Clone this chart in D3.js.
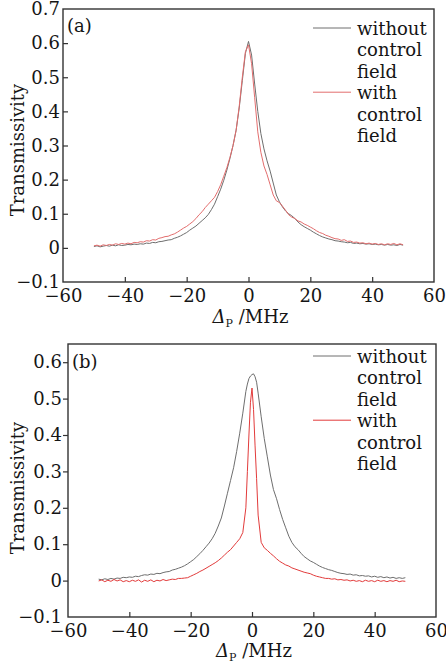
<!DOCTYPE html>
<html>
<head>
<meta charset="utf-8">
<script src="https://cdn.jsdelivr.net/npm/d3@7"></script>
<style>
  body { margin: 0; background: #fff; }
  svg text { font-family: "DejaVu Serif", serif; fill: #151515; }
</style>
</head>
<body>
<div id="chart"></div>
<script>
// ---- data ----
// detuning axis (MHz), shared by both series of a panel
const detA = d3.range(-50, 51, 1)
const detB = d3.range(-50, -2, 1).concat([-2, -1.5, -1, -0.5, 0, 0.5, 1, 1.5, 2]).concat(d3.range(3, 51, 1))

// panel (a)
const aWithout = [
  0.004, 0.006, 0.003, 0.005, 0.007, 0.005, 0.008, 0.006, 0.009, 0.007,
  0.008, 0.010, 0.009, 0.011, 0.010, 0.012, 0.011, 0.014, 0.013, 0.016,
  0.015, 0.018, 0.019, 0.021, 0.023, 0.024, 0.028, 0.031, 0.035, 0.040,
  0.045, 0.052, 0.058, 0.064, 0.072, 0.080, 0.088, 0.098, 0.112, 0.128,
  0.150, 0.172, 0.198, 0.228, 0.262, 0.300, 0.345, 0.410, 0.490, 0.570,
  0.605,
  0.565, 0.480, 0.400, 0.335, 0.290, 0.255, 0.225, 0.190, 0.155, 0.135,
  0.120, 0.108, 0.100, 0.094, 0.086, 0.076, 0.068, 0.062, 0.057, 0.052,
  0.046, 0.041, 0.036, 0.032, 0.029, 0.026, 0.024, 0.021, 0.020, 0.018,
  0.017, 0.015, 0.016, 0.013, 0.014, 0.012, 0.013, 0.011, 0.012, 0.010,
  0.011, 0.009, 0.010, 0.008, 0.010, 0.008, 0.009, 0.007, 0.010, 0.008
]
const aWith = [
  0.006, 0.008, 0.005, 0.009, 0.007, 0.010, 0.008, 0.012, 0.010, 0.013,
  0.011, 0.014, 0.012, 0.016, 0.015, 0.018, 0.017, 0.021, 0.020, 0.024,
  0.023, 0.028, 0.030, 0.033, 0.034, 0.038, 0.041, 0.046, 0.052, 0.058,
  0.063, 0.070, 0.077, 0.086, 0.097, 0.106, 0.118, 0.128, 0.138, 0.148,
  0.165, 0.185, 0.210, 0.235, 0.265, 0.300, 0.345, 0.415, 0.500, 0.575,
  0.595,
  0.540, 0.440, 0.340, 0.280, 0.240, 0.215, 0.185, 0.155, 0.138, 0.133,
  0.122, 0.110, 0.097, 0.090, 0.086, 0.079, 0.076, 0.070, 0.066, 0.061,
  0.056, 0.050, 0.045, 0.042, 0.037, 0.034, 0.030, 0.027, 0.026, 0.022,
  0.024, 0.019, 0.020, 0.016, 0.017, 0.014, 0.015, 0.012, 0.014, 0.011,
  0.013, 0.010, 0.012, 0.009, 0.012, 0.010, 0.013, 0.009, 0.012, 0.009
]

// panel (b)
const bWithout = [
  0.004, 0.002, 0.005, 0.003, 0.006, 0.004, 0.007, 0.006, 0.009, 0.008,
  0.010, 0.009, 0.012, 0.011, 0.014, 0.016, 0.015, 0.018, 0.017, 0.020,
  0.019, 0.022, 0.024, 0.025, 0.029, 0.031, 0.034, 0.037, 0.041, 0.046,
  0.052, 0.058, 0.066, 0.074, 0.083, 0.093, 0.103, 0.115, 0.130, 0.150,
  0.172, 0.205, 0.240, 0.275, 0.310, 0.355, 0.405, 0.460,
  0.520, 0.540, 0.555, 0.562, 0.566, 0.568, 0.560, 0.545, 0.515,
  0.450, 0.390, 0.340, 0.290, 0.250, 0.225, 0.195, 0.168, 0.145, 0.122,
  0.105, 0.093, 0.085, 0.075, 0.066, 0.060, 0.054, 0.050, 0.045, 0.040,
  0.036, 0.033, 0.030, 0.028, 0.025, 0.022, 0.020, 0.019, 0.017, 0.018,
  0.015, 0.016, 0.013, 0.014, 0.012, 0.013, 0.010, 0.012, 0.009, 0.011,
  0.008, 0.010, 0.007, 0.009, 0.006, 0.008, 0.006, 0.008
]
const bWith = [
  -0.001, 0.002, -0.003, 0.001, -0.002, 0.003, -0.001, 0.002, -0.003, 0.000,
  -0.003, 0.001, -0.002, 0.002, -0.004, 0.001, -0.002, 0.002, -0.003, 0.001,
  -0.001, 0.003, 0.000, 0.002, 0.004, 0.003, 0.006, 0.006, 0.007, 0.008,
  0.012, 0.016, 0.020, 0.025, 0.029, 0.034, 0.039, 0.044, 0.049, 0.055,
  0.062, 0.070, 0.078, 0.085, 0.095, 0.105, 0.115, 0.132,
  0.200, 0.300, 0.400, 0.490, 0.529, 0.470, 0.370, 0.280, 0.180,
  0.105, 0.090, 0.083, 0.075, 0.068, 0.060, 0.053, 0.048, 0.043, 0.040,
  0.035, 0.032, 0.029, 0.026, 0.023, 0.021, 0.019, 0.015, 0.012, 0.010,
  0.008, 0.006, 0.006, 0.004, 0.005, 0.002, 0.003, 0.001, 0.002, -0.001,
  0.001, -0.002, 0.000, -0.003, 0.001, -0.002, 0.000, -0.003, 0.001, -0.002,
  0.000, -0.003, 0.000, -0.002, 0.001, -0.003, -0.001, -0.002
]

const xTicks = [-60, -40, -20, 0, 20, 40, 60]
const yTicksA = [-0.1, 0, 0.1, 0.2, 0.3, 0.4, 0.5, 0.6, 0.7]
const yTicksB = [-0.1, 0, 0.1, 0.2, 0.3, 0.4, 0.5, 0.6]
const legendRows = ["without", "control", "field", "with", "control", "field"]

const ancho = 446, alto = 663
const svg = d3.select("#chart").append("svg")
  .attr("width", ancho).attr("height", alto)

const paneles = [
  { tag: "(a)", det: detA, s1: aWithout, s2: aWith, yDom: [-0.1, 0.7], yTicks: yTicksA,
    left: 63, right: 434, top: 9, bottom: 282, yIn: true, red: "#e36d6d",
    tagY: 32, xLabY: 323, legY: 35, ylabCy: 150 },
  { tag: "(b)", det: detB, s1: bWithout, s2: bWith, yDom: [-0.1, 0.65], yTicks: yTicksB,
    left: 68, right: 436, top: 344, bottom: 617, yIn: false, red: "#e23b3b",
    tagY: 368, xLabY: 657, legY: 363, ylabCy: 488 }
]

paneles.forEach((p) => {
  const x = d3.scaleLinear().domain([-60, 60]).range([p.left, p.right])
  const y = d3.scaleLinear().domain(p.yDom).range([p.bottom, p.top])

  // curvas
  const linea = (serie) => d3.line()
    .x((d, i) => x(p.det[i]))
    .y((d) => y(d))(serie)

  svg.append("path").attr("d", linea(p.s1))
    .attr("fill", "none").attr("stroke", "#6e6e6e").attr("stroke-width", 1)
  svg.append("path").attr("d", linea(p.s2))
    .attr("fill", "none").attr("stroke", p.red).attr("stroke-width", 1)

  // ejes
  const xAxis = d3.axisBottom(x).tickValues(xTicks).tickSizeInner(-5).tickSizeOuter(0)
    .tickPadding(7).tickFormat(d3.format("d"))
  const gx = svg.append("g").attr("transform", `translate(0, ${p.bottom})`).call(xAxis)

  const yAxis = d3.axisLeft(y).tickValues(p.yTicks).tickSizeOuter(0)
    .tickSizeInner(p.yIn ? -5 : 5).tickPadding(p.yIn ? 3 : 1)
    .tickFormat((d) => d === 0 ? "0" : d3.format(".1f")(d))
  const gy = svg.append("g").attr("transform", `translate(${p.left}, 0)`).call(yAxis)

  ;[gx, gy].forEach((g) => {
    g.select(".domain").remove()
    g.selectAll("line").attr("stroke", "#333").attr("stroke-width", 1.2)
    g.selectAll("text").attr("font-size", 18).attr("font-family", "DejaVu Serif").attr("fill", "#151515")
  })
  gx.selectAll(".tick").filter((d) => d === -60 || d === 60).select("line").remove()
  gy.selectAll(".tick").filter((d) => d === p.yDom[0] || d === 0.7).select("line").remove()

  // marco
  svg.append("rect")
    .attr("x", p.left).attr("y", p.top)
    .attr("width", p.right - p.left).attr("height", p.bottom - p.top)
    .attr("fill", "none").attr("stroke", "#333").attr("stroke-width", 1.4)

  // etiquetas
  svg.append("text").attr("x", p.left + 4).attr("y", p.tagY)
    .attr("font-size", 18).text(p.tag)

  svg.append("text")
    .attr("transform", `translate(24, ${p.ylabCy}) rotate(-90)`)
    .attr("text-anchor", "middle").attr("font-size", 18)
    .text("Transmissivity")

  const xl = svg.append("text").attr("x", x(0) + 2).attr("y", p.xLabY)
    .attr("text-anchor", "middle").attr("font-size", 18)
  xl.append("tspan").attr("font-style", "italic").text("Δ")
  xl.append("tspan").attr("font-size", 11).attr("dy", 4).text("P")
  xl.append("tspan").attr("dy", -4).text(" /MHz")

  // leyenda
  const leg = svg.append("g")
  leg.selectAll("text").data(legendRows).join("text")
    .attr("x", 357).attr("y", (d, i) => p.legY + i * 21.4)
    .attr("font-size", 18).text((d) => d)
  leg.append("line").attr("x1", 313).attr("x2", 351)
    .attr("y1", p.legY - 7).attr("y2", p.legY - 7)
    .attr("stroke", "#6e6e6e").attr("stroke-width", 1)
  leg.append("line").attr("x1", 313).attr("x2", 351)
    .attr("y1", p.legY - 7 + 3 * 21.4).attr("y2", p.legY - 7 + 3 * 21.4)
    .attr("stroke", p.red).attr("stroke-width", 1)
})
</script>
</body>
</html>
